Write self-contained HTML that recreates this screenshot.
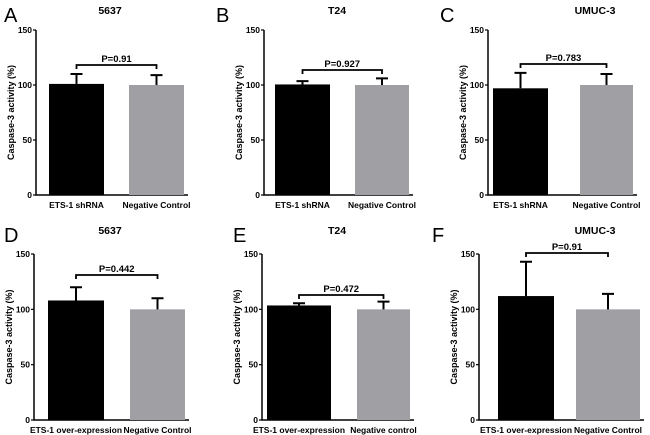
<!DOCTYPE html>
<html><head><meta charset="utf-8"><style>
html,body{margin:0;padding:0;background:#fff;width:650px;height:435px;overflow:hidden}
svg{display:block;font-family:"Liberation Sans",Arial,sans-serif}
</style></head><body>
<svg id="c" width="650" height="435"></svg>
<script>
const panelLetters = ["A","B","C","D","E","F"];
const panelTitles = ["5637","T24","UMUC-3","5637","T24","UMUC-3"];
const pLabels = ["P=0.91","P=0.927","P=0.783","P=0.442","P=0.472","P=0.91"];
const cat1 = ["ETS-1 shRNA","ETS-1 shRNA","ETS-1 shRNA","ETS-1 over-expression","ETS-1 over-expression","ETS-1 over-expression"];
const cat2 = ["Negative Control","Negative Control","Negative Control","Negative Control","Negative control","Negative Control"];
const meanA = [101,100.5,97,108,103.5,112];
const errA = [9,3,14,12,2,31];
const meanB = [100,100,100,100,100,100];
const errB = [9,6,10,10,7,14];
const yTicks = [0,50,100,150];
// layout (not data)
const L = [
 {ax:36,y0:195,y1:30,b1:[49,104],b2:[129,184],br:65,lx:4,ly:22,tx:110,ty:14},
 {ax:264,y0:195,y1:30,b1:[275,330],b2:[355,409],br:70,lx:216,ly:22,tx:337,ty:14},
 {ax:488,y0:195,y1:30,b1:[493,548],b2:[580,633],br:64,lx:440,ly:22,tx:595,ty:14},
 {ax:34,y0:420,y1:254,b1:[48,104],b2:[130,185],br:275,lx:4,ly:242,tx:110,ty:234},
 {ax:262,y0:420,y1:254,b1:[267,331],b2:[357,410],br:295,lx:233,ly:242,tx:337,ty:234},
 {ax:479,y0:420,y1:254,b1:[498,554],b2:[576,640],br:253,lx:432,ly:242,tx:595,ty:234}
];
const svg=document.getElementById('c');const NS="http://www.w3.org/2000/svg";
function el(t,a,p){const e=document.createElementNS(NS,t);for(const k in a)e.setAttribute(k,a[k]);(p||svg).appendChild(e);return e;}
L.forEach((g,i)=>{
 const grp=el('g',{});
 
 
 const y=v=>g.y0-(v/150)*(g.y0-g.y1);
 let t=el('text',{x:g.lx,y:g.ly,'font-size':20},grp);t.textContent=panelLetters[i];
 
 t=el('text',{x:g.tx,y:g.ty,'font-size':10.5,'font-weight':'bold','text-anchor':'middle'},grp);t.textContent=panelTitles[i];
 
 const right=g.b2[1]+4;
 let a=el('path',{d:`M${g.ax} ${g.y1}V${g.y0}H${right}`,stroke:'#000','stroke-width':1.5,fill:'none'},grp);
 
 yTicks.forEach(v=>{
  el('line',{x1:g.ax-3,x2:g.ax,y1:y(v),y2:y(v),stroke:'#000','stroke-width':1.2},grp);
  const tt=el('text',{x:g.ax-4,y:y(v)+3,'font-size':8.5,'font-weight':'bold','text-anchor':'end'},grp);tt.textContent=v;
  
 });
 const yc=(g.y0+g.y1)/2;
 t=el('text',{x:g.ax-22,y:yc,'font-size':9,'font-weight':'bold','text-anchor':'middle',transform:`rotate(-90 ${g.ax-22} ${yc})`},grp);
 t.textContent='Caspase-3 activity (%)';
 [[g.b1,meanA[i],errA[i],'#000',cat1[i]],[g.b2,meanB[i],errB[i],'#a0a0a4',cat2[i]]].forEach((b,j)=>{
  const r=el('rect',{x:b[0][0],y:y(b[1]),width:b[0][1]-b[0][0],height:g.y0-y(b[1]),fill:b[3]},grp);
  
  const cx=(b[0][0]+b[0][1])/2;
  const e=el('path',{d:`M${cx} ${y(b[1])}V${y(b[1]+b[2])}M${cx-6} ${y(b[1]+b[2])}H${cx+6}`,stroke:'#000','stroke-width':2,fill:'none'},grp);
  
  const xl=el('text',{x:cx,y:g.y0+13,'font-size':8.5,'font-weight':'bold','text-anchor':'middle'},grp);xl.textContent=b[4];
  
 });
 const c1=(g.b1[0]+g.b1[1])/2,c2=(g.b2[0]+g.b2[1])/2;
 const br=el('path',{d:`M${c1} ${g.br+4}V${g.br}H${c2}V${g.br+4}`,stroke:'#000','stroke-width':1.8,fill:'none'},grp);
 
 t=el('text',{x:(c1+c2)/2,y:g.br-3,'font-size':9.5,'font-weight':'bold','text-anchor':'middle'},grp);t.textContent=pLabels[i];
 
});
</script>
</body></html>
